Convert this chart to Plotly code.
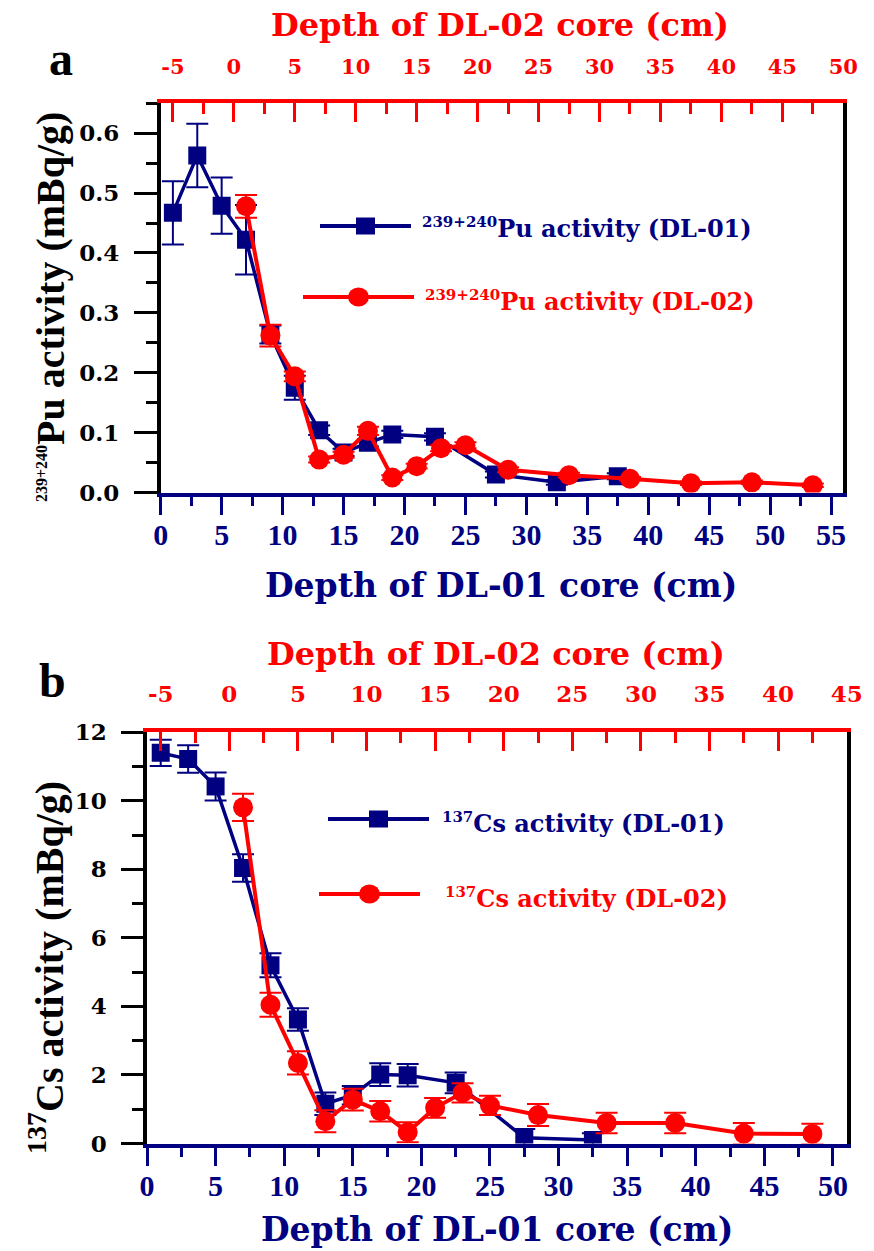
import plotly.graph_objects as go

W, H = 874, 1251
NAVY = "#000080"
RED = "#FF0000"

# ---------------- data ----------------
dl01_depth = [1, 3, 5, 7, 9, 11, 13, 15, 17, 19, 22.5, 27.5, 32.5, 37.5]
dl01_pu = [0.467, 0.563, 0.479, 0.422, 0.264, 0.175, 0.104, 0.067, 0.083, 0.097, 0.093, 0.030, 0.017, 0.027]
dl01_pu_err = [0.053, 0.053, 0.047, 0.058, 0.015, 0.020, 0.008, 0.006, 0.006, 0.006, 0.006, 0.005, 0.004, 0.005]

dl02_depth = [1, 3, 5, 7, 9, 11, 13, 15, 17, 19, 22.5, 27.5, 32.5, 37.5, 42.5, 47.5]
dl02_pu = [0.478, 0.262, 0.194, 0.055, 0.063, 0.103, 0.025, 0.044, 0.074, 0.079, 0.038, 0.029, 0.023, 0.0155, 0.017, 0.012]
dl02_pu_err = [0.019, 0.018, 0.008, 0.005, 0.005, 0.007, 0.004, 0.004, 0.005, 0.005, 0.004, 0.004, 0.003, 0.003, 0.003, 0.003]

dl01_cs_depth = [1, 3, 5, 7, 9, 11, 13, 15, 17, 19, 22.5, 27.5, 32.5]
dl01_cs = [11.40, 11.22, 10.42, 8.04, 5.20, 3.62, 1.16, 1.41, 2.01, 1.99, 1.77, 0.17, 0.10]
dl01_cs_err = [0.38, 0.40, 0.41, 0.40, 0.35, 0.33, 0.33, 0.27, 0.33, 0.33, 0.30, 0.25, 0.20]

dl02_cs_depth = [1, 3, 5, 7, 9, 11, 13, 15, 17, 19, 22.5, 27.5, 32.5, 37.5, 42.5]
dl02_cs = [9.81, 4.05, 2.35, 0.65, 1.28, 0.94, 0.33, 1.04, 1.48, 1.11, 0.83, 0.60, 0.60, 0.29, 0.28]
dl02_cs_err = [0.40, 0.35, 0.34, 0.32, 0.32, 0.30, 0.29, 0.29, 0.28, 0.28, 0.32, 0.30, 0.30, 0.31, 0.30]

# top-axis tick labels (DL-02 depth), written with a plain hyphen as in the original
top_ticks_a = [-5, 0, 5, 10, 15, 20, 25, 30, 35, 40, 45, 50]
top_ticks_b = [-5, 0, 5, 10, 15, 20, 25, 30, 35, 40, 45]
top_labels_a = [str(v) for v in top_ticks_a]
top_labels_b = [str(v) for v in top_ticks_b]

# ---------------- helpers ----------------
def fx(p):
    return p / W


def fy(p):
    return 1 - p / H


SERIF_W = "DejaVu Serif"
TIMES = "Liberation Serif"

A_X = [fx(160.7), fx(843.3)]
A_Y = [fy(492.5), fy(103.3)]
B_X = [fx(147.0), fx(846.7)]
B_Y = [fy(1143.5), fy(732.3)]

fig = go.Figure()


def add_series(x, y, err, xa, ya, color, symbol, size, lw):
    fig.add_trace(go.Scatter(
        x=x, y=y, xaxis=xa, yaxis=ya, mode="lines+markers",
        line=dict(color=color, width=lw),
        marker=dict(symbol=symbol, size=size, color=color, line=dict(width=0)),
        error_y=dict(type="data", array=err, color=color, thickness=2, width=11),
        showlegend=False, hoverinfo="x+y"))


add_series(dl01_depth, dl01_pu, dl01_pu_err, "x", "y", NAVY, "square", 18, 3.5)
add_series(dl02_depth, dl02_pu, dl02_pu_err, "x2", "y", RED, "circle", 20, 4)
add_series(dl01_cs_depth, dl01_cs, dl01_cs_err, "x3", "y2", NAVY, "square", 18, 3.5)
add_series(dl02_cs_depth, dl02_cs, dl02_cs_err, "x4", "y2", RED, "circle", 20, 4)


def bottom_axis(domain, rng, anchor):
    return dict(
        domain=domain, range=rng, anchor=anchor, side="bottom", automargin=False,
        showline=True, linecolor=NAVY, linewidth=3.5,
        ticks="outside", ticklen=19, tickwidth=3, tickcolor=NAVY,
        tick0=0, dtick=5,
        minor=dict(dtick=2.5, ticks="outside", ticklen=10, tickwidth=3, tickcolor=NAVY),
        tickfont=dict(family=TIMES, size=30, color=NAVY, weight="bold"),
        ticklabelstandoff=-6,
        showgrid=False, zeroline=False, fixedrange=True)


def top_axis(over, rng, anchor, fsize, tv, tt, standoff):
    return dict(
        overlaying=over, range=rng, anchor=anchor, side="top", automargin=False,
        showline=True, linecolor=RED, linewidth=3.5,
        ticks="inside", ticklen=19, tickwidth=3, tickcolor=RED,
        tickmode="array", tickvals=tv, ticktext=tt,
        minor=dict(dtick=2.5, tick0=0, ticks="inside", ticklen=11, tickwidth=3, tickcolor=RED),
        tickfont=dict(family=SERIF_W, size=fsize, color=RED, weight="bold"),
        ticklabelstandoff=standoff,
        showgrid=False, zeroline=False, fixedrange=True)


def left_axis(domain, rng, anchor, dtick, mdtick, fmt, tlen):
    return dict(
        domain=domain, range=rng, anchor=anchor, automargin=False,
        showline=True, linecolor="black", linewidth=3.5, mirror=True,
        ticks="outside", ticklen=tlen, tickwidth=3, tickcolor="black",
        tick0=0, dtick=dtick, tickformat=fmt,
        minor=dict(dtick=mdtick, ticks="outside", ticklen=11, tickwidth=3, tickcolor="black"),
        tickfont=dict(family=SERIF_W, size=23, color="black", weight="bold"),
        ticklabelstandoff=10,
        showgrid=False, zeroline=False, fixedrange=True)


fig.update_layout(
    width=W, height=H, autosize=False,
    margin=dict(l=0, r=0, t=0, b=0, pad=0, autoexpand=False),
    paper_bgcolor="white", plot_bgcolor="white",
    showlegend=False,
    xaxis=bottom_axis(A_X, [0, 56], "y"),
    xaxis2=top_axis("x", [-6, 50], "y", 21, top_ticks_a, top_labels_a, 17),
    yaxis=left_axis(A_Y, [0, 0.65], "x", 0.1, 0.05, ".1f", 23),
    xaxis3=bottom_axis(B_X, [0, 51], "y2"),
    xaxis4=top_axis("x3", [-6, 45], "y2", 23, top_ticks_b, top_labels_b, 17),
    yaxis2=left_axis(B_Y, [0, 12], "x3", 2, 1, "d", 22),
)

annotations = []


def ann(text, x, y, size, color, family=SERIF_W, xanchor="center", angle=0):
    annotations.append(dict(
        text=text, x=fx(x), y=fy(y), xref="paper", yref="paper",
        xanchor=xanchor, yanchor="middle", showarrow=False, textangle=angle,
        font=dict(family=family, size=size, color=color, weight="bold")))


# axis titles
ann("Depth of DL-02 core (cm)", 500, 25, 32, RED)
ann("Depth of DL-01 core (cm)", 501, 585, 33, NAVY)
ann("Depth of DL-02 core (cm)", 496, 654, 32, RED)
ann("Depth of DL-01 core (cm)", 497, 1229, 33, NAVY)
ann('<sup><span style="font-size:16px">239+240</span></sup>Pu activity (mBq/g)',
    50, 307, 40, "black", family=TIMES, angle=-90)
ann("<sup>137</sup>Cs activity (mBq/g)", 46, 968, 40, "black", family=TIMES, angle=-90)

# panel letters
ann("a", 61, 58, 48, "black", family=TIMES)
ann("b", 52, 680, 48, "black", family=TIMES)

# legend texts
ann('<sup><span style="font-size:15px">239+240</span></sup>Pu activity (DL-01)', 420, 228, 24, NAVY, xanchor="left")
ann('<sup><span style="font-size:15px">239+240</span></sup>Pu activity (DL-02)', 423, 301, 24, RED, xanchor="left")
ann('<sup><span style="font-size:15px">137</span></sup>Cs activity (DL-01)', 440, 823, 24, NAVY, xanchor="left")
ann('<sup><span style="font-size:15px">137</span></sup>Cs activity (DL-02)', 443, 898, 24, RED, xanchor="left")

fig.update_layout(annotations=annotations)

# legend keys (decoration drawn in paper pixels)
shapes = []


def key(x0, x1, y, color, kind, w, h):
    cx = (x0 + x1) / 2
    shapes.append(dict(type="line", xref="paper", yref="paper",
                       x0=fx(x0), x1=fx(x1), y0=fy(y), y1=fy(y),
                       line=dict(color=color, width=4)))
    shapes.append(dict(type="rect" if kind == "square" else "circle",
                       xref="paper", yref="paper",
                       x0=fx(cx - w / 2), x1=fx(cx + w / 2),
                       y0=fy(y + h / 2), y1=fy(y - h / 2),
                       fillcolor=color, line=dict(width=0)))


key(320, 411, 226, NAVY, "square", 19, 17)
key(303, 414, 297, RED, "circle", 21, 19)
key(328, 429, 819, NAVY, "square", 19, 17)
key(319, 420, 894, RED, "circle", 21, 19)
fig.update_layout(shapes=shapes)

fig.write_html("out.html")
